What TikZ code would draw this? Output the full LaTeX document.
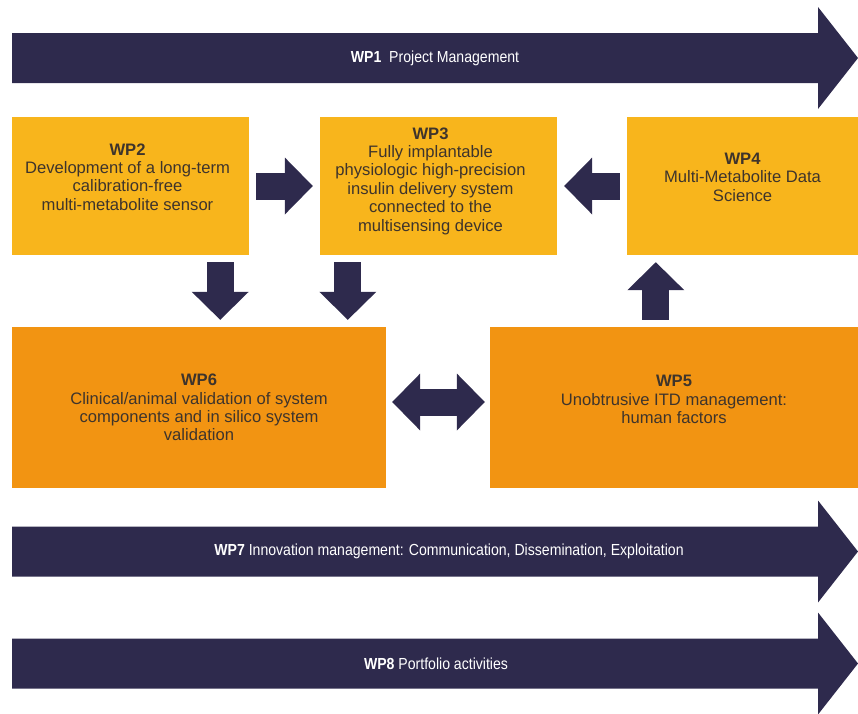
\documentclass[tikz,border=0pt]{standalone}
\usepackage{fontspec}
\setmainfont{Liberation Sans}
\newfontfamily\barfont[FakeStretch=0.88]{Liberation Sans}
\usepackage{xcolor}
\definecolor{wpnavy}{RGB}{46,42,77}
\definecolor{wpyellow}{RGB}{248,181,28}
\definecolor{wporange}{RGB}{242,148,18}
\definecolor{wptext}{RGB}{62,52,44}
\usepackage{tikz}
\usetikzlibrary{arrows.meta,positioning,calc}

\begin{document}
\begin{tikzpicture}[x=1pt, y=-1pt,
  topbox/.style={rectangle, fill=wpyellow, minimum height=138pt, inner sep=0pt},
  lowbox/.style={rectangle, fill=wporange, minimum height=161pt, inner sep=0pt},
  boxtxt/.style={align=center, text=wptext, inner sep=0pt,
                 font=\fontsize{16.6}{18.4}\selectfont},
  bartxt/.style={text=white, inner sep=0pt, font=\barfont\fontsize{16}{19}\selectfont},
  blk/.style={wpnavy, line width=27pt, shorten <=7pt, shorten >=7pt,
              -{Triangle[length=28pt 0 0, width=57pt 0 0, line width=0pt 0 0]}},
  dblk/.style={wpnavy, line width=27pt, shorten <=6pt, shorten >=5pt,
              {Triangle[length=28pt 0 0, width=57pt 0 0, line width=0pt 0 0]}-{Triangle[length=28pt 0 0, width=57pt 0 0, line width=0pt 0 0]}}
]
  \useasboundingbox (0,0) rectangle (858,713);

  % long bars
  \foreach \yy/\xx/\wp/\txt in {58/435/wp1/{\textbf{WP1}\ \ Project Management},
      551.5/449/wp7/{\textbf{WP7} Innovation management: Communication, Dissemination, Exploitation},
      663.5/436/wp8/{\textbf{WP8} Portfolio activities}}{
    \fill[wpnavy] (12,\yy-25) -- (818,\yy-25) -- (818,\yy-51) -- (858,\yy)
      -- (818,\yy+51) -- (818,\yy+25) -- (12,\yy+25) -- cycle;
    \node[bartxt] (\wp) at (\xx,\yy) {\txt};
  }

  % work packages
  \node[topbox, minimum width=237pt] (wp2) at (130.5,186) {};
  \node[topbox, minimum width=237pt] (wp3) at (438.5,186) {};
  \node[topbox, minimum width=231pt] (wp4) at (742.5,186) {};
  \node[lowbox, minimum width=374pt] (wp6) at (199,407.5) {};
  \node[lowbox, minimum width=368pt] (wp5) at (674,407.5) {};

  \node[boxtxt] (wp2t) at ([xshift=-3pt,yshift=9pt]wp2.center)
    {\textbf{WP2}\\Development of a long-term\\calibration-free\\multi-metabolite sensor};
  \node[boxtxt] (wp3t) at ([xshift=-8pt,yshift=5pt]wp3.center)
    {\textbf{WP3}\\Fully implantable\\physiologic high-precision\\insulin delivery system\\connected to the\\multisensing device};
  \node[boxtxt] (wp4t) at ([yshift=9pt]wp4.center)
    {\textbf{WP4}\\Multi-Metabolite Data\\Science};
  \node[boxtxt] (wp6t) at (wp6.center)
    {\textbf{WP6}\\Clinical/animal validation of system\\components and in silico system\\validation};
  \node[boxtxt] (wp5t) at ([yshift=8pt]wp5.center)
    {\textbf{WP5}\\Unobtrusive ITD management:\\human factors};

  % block arrows
  \coordinate (d1) at ([xshift=-29pt]wp2.south east);
  \coordinate (d2) at ([xshift=28pt]wp3.south west);
  \coordinate (u1) at ([xshift=29pt]wp4.south west);
  \draw[blk] (wp2.east) -- (wp3.west);
  \draw[blk] (wp4.west) -- (wp3.east);
  \draw[blk] (d1) -- (d1 |- wp6.north);
  \draw[blk] (d2) -- (d2 |- wp6.north);
  \draw[blk] (u1 |- wp5.north) -- (u1);
  \draw[dblk] ([yshift=5.5pt]wp6.east) -- ([yshift=5.5pt]wp5.west);
\end{tikzpicture}
\end{document}
